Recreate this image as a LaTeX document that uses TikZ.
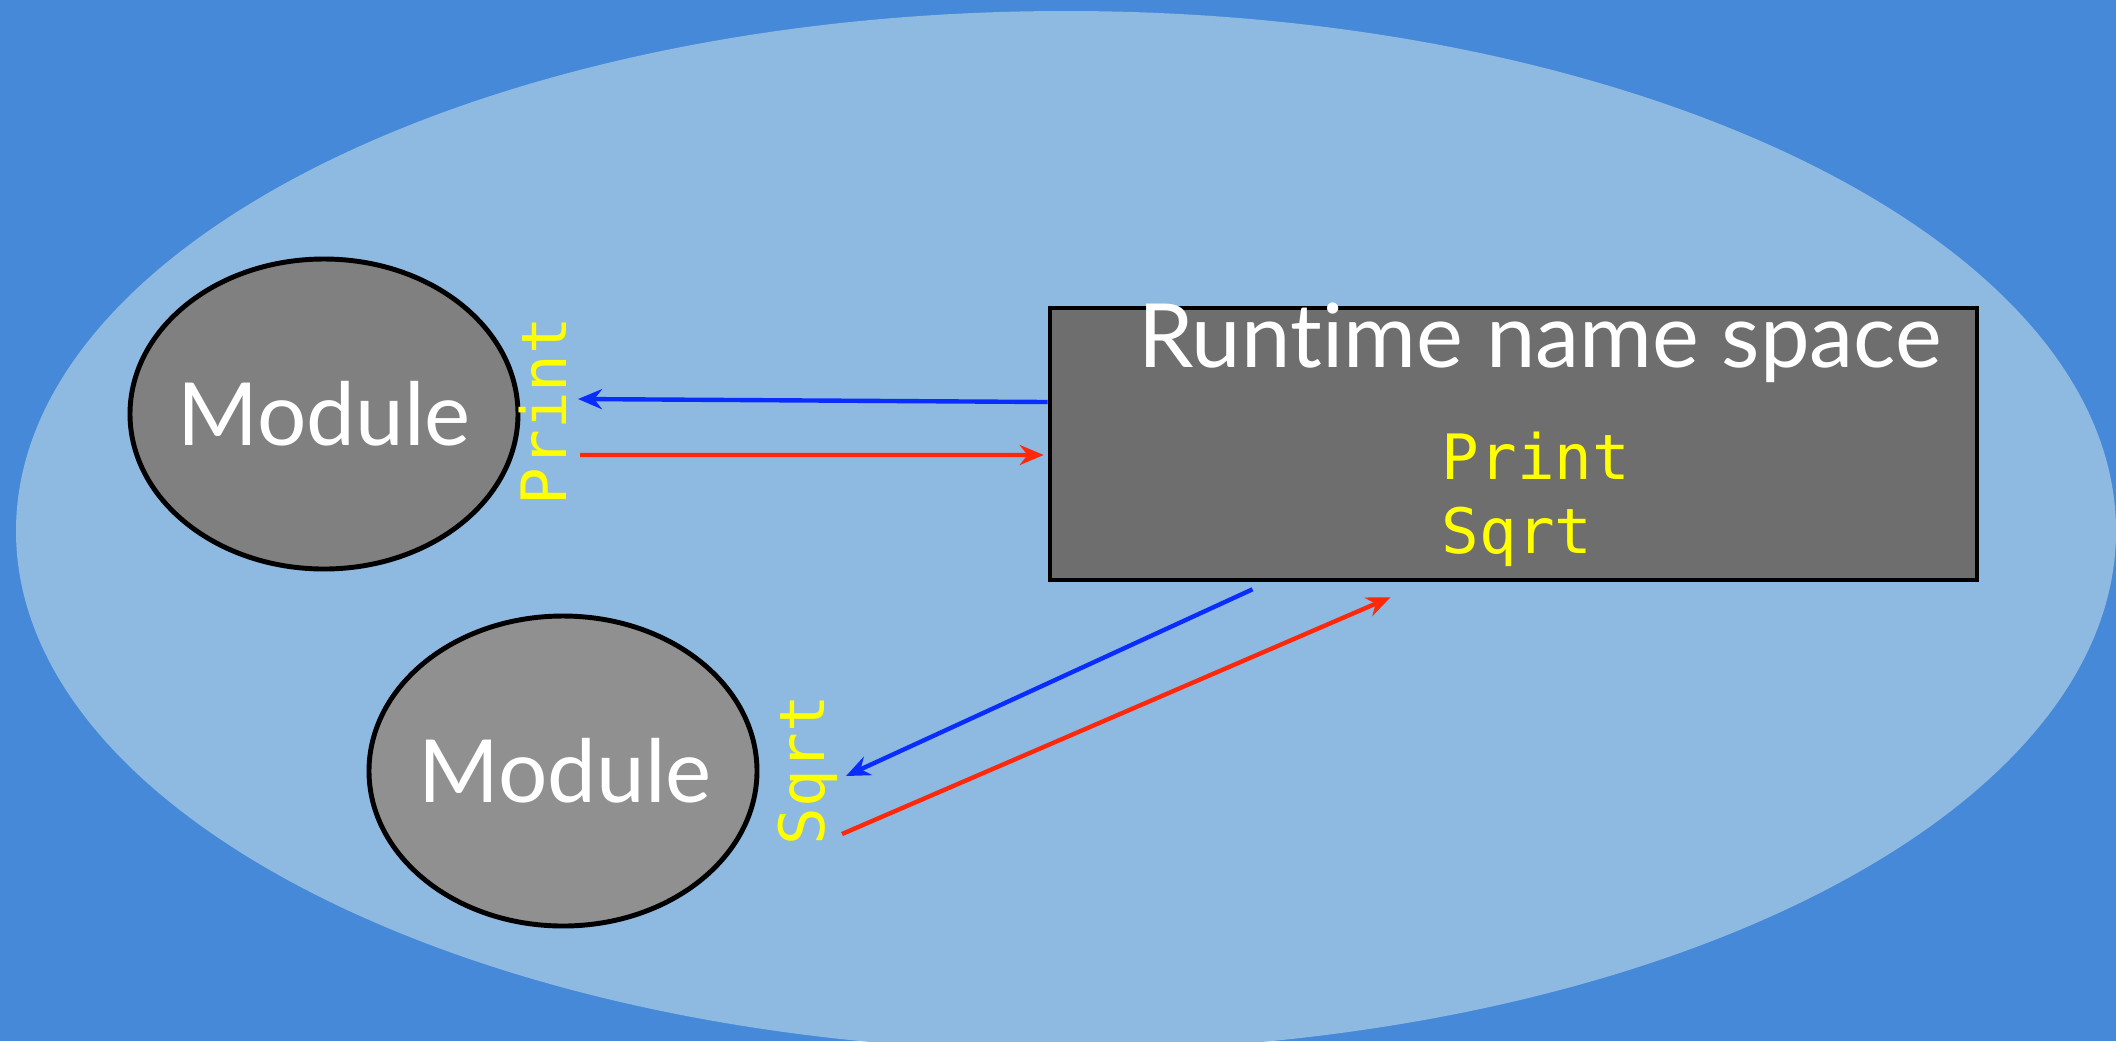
\documentclass[tikz,border=0pt]{standalone}
\usepackage{fontspec}
\setmainfont{Lato}[Ligatures=NoCommon]
\newfontfamily\monofam{DejaVu Sans Mono}
\usetikzlibrary{shapes.geometric,arrows.meta}
\definecolor{bgblue}{RGB}{70,137,216}
\definecolor{lightblue}{RGB}{142,185,224}
\definecolor{modgrayA}{RGB}{128,128,128}
\definecolor{modgrayB}{RGB}{144,144,144}
\definecolor{rectgray}{RGB}{110,110,110}
\definecolor{arrblue}{RGB}{10,45,255}
\definecolor{arrred}{RGB}{255,40,10}
\definecolor{labyellow}{RGB}{255,255,0}
\tikzset{
  modshape/.style={ellipse, draw=black, line width=1.4pt, minimum width=3.88cm, minimum height=3.1cm, inner sep=0pt},
  modtext/.style={text=white, inner sep=0pt, font=\fontsize{24.8}{30}\selectfont},
  nsbox/.style={rectangle, draw=black, line width=1.3pt, fill=rectgray, minimum width=9.27cm, minimum height=2.72cm, inner sep=0pt},
  titletext/.style={text=white, inner sep=0pt, font=\fontsize{25.2}{30}\selectfont},
  monotext/.style={text=labyellow, inner sep=0pt, font=\monofam\fontsize{17.8}{21}\selectfont},
  bluearr/.style={draw=arrblue, line width=1.25pt, -{Stealth[length=0.24cm,width=0.2cm]}},
  redarr/.style={draw=arrred, line width=1.25pt, -{Stealth[length=0.24cm,width=0.2cm]}}
}
\begin{document}
\begin{tikzpicture}
\useasboundingbox (0,0) rectangle (21.16,-10.41);
\fill[bgblue] (0,0) rectangle (21.16,-10.41);
\begin{scope}
\clip (0,0) rectangle (21.16,-10.41);
\fill[lightblue] (10.66,-5.31) ellipse [x radius=10.50cm, y radius=5.20cm];
\end{scope}
\node[modshape, fill=modgrayA] (modA) at (3.24,-4.14) {};
\node[modtext] (modAtext) at (3.24,-4.14) {Module};
\node[modshape, fill=modgrayB] (modB) at (5.63,-7.71) {};
\node[modtext] (modBtext) at (5.65,-7.71) {Module};
\node[nsbox] (ns) at (15.135,-4.44) {};
\node[titletext, anchor=base] (title) at (15.40,-3.67) {Run\kern0pt time name space};
\node[monotext, anchor=base west] (nsprint) at (14.41,-4.79) {Print};
\node[monotext, anchor=base west] (nssqrt) at (14.41,-5.53) {Sqrt};
\node[monotext, rotate=90] (lprint) at (5.43,-4.11) {Print};
\node[monotext, rotate=90] (lsqrt) at (8.08,-7.70) {Sqrt};
\coordinate (b1end) at (5.78,-3.99);
\coordinate (r1start) at (5.80,-4.55);
\coordinate (b2end) at (8.46,-7.76);
\coordinate (r2start) at (8.42,-8.34);
\draw[bluearr] ([yshift=0.42cm]ns.west) -- (b1end);
\draw[redarr] (r1start) -- ([xshift=-0.04cm,yshift=-0.11cm]ns.west);
\draw[bluearr] ([xshift=-2.61cm,yshift=-0.07cm]ns.south) -- (b2end);
\draw[redarr] (r2start) -- ([xshift=-1.23cm,yshift=-0.15cm]ns.south);
\end{tikzpicture}
\end{document}
